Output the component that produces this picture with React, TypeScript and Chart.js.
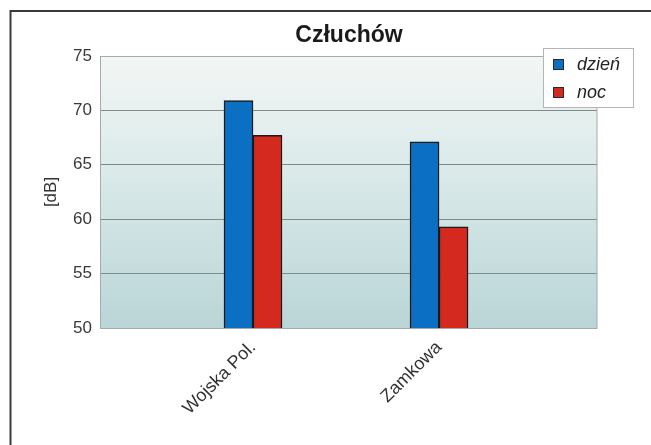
import React, { useEffect, useRef } from "react";
import { Chart, registerables } from "chart.js";

Chart.register(...registerables);

const chartTitle = "Człuchów";
const categories = ["Wojska Pol.", "Zamkowa"];
const seriesNames = ["dzień", "noc"];
const dayValues = [70.9, 67.1];
const nightValues = [67.7, 59.3];
const yTicks = [50, 55, 60, 65, 70, 75];
const yAxisTitle = "[dB]";

const FONT = "'Liberation Sans', Arial, sans-serif";
const BLUE = "#0b6fc3";
const RED = "#d4291f";

const framePlugin = {
  id: "frame",
  beforeDraw(chart: any) {
    const { ctx, chartArea: a } = chart;
    ctx.save();
    const g = ctx.createLinearGradient(0, a.top, 0, a.bottom);
    g.addColorStop(0, "#f3f6f5");
    g.addColorStop(0.5, "#d6e7e7");
    g.addColorStop(1, "#bad5d7");
    ctx.fillStyle = g;
    ctx.fillRect(a.left, a.top, a.right - a.left, a.bottom - a.top);
    ctx.restore();
  },
  afterDraw(chart: any) {
    const { ctx, chartArea: a } = chart;
    ctx.save();
    // plot border
    ctx.strokeStyle = "#a3abab";
    ctx.lineWidth = 1;
    ctx.strokeRect(a.left - 0.5, a.top + 0.5, a.right - a.left + 0.5, a.bottom - a.top);
    // outer frame
    ctx.strokeStyle = "#3a3a3a";
    ctx.lineWidth = 2;
    ctx.beginPath();
    ctx.moveTo(10.5, chart.height + 5);
    ctx.lineTo(10.5, 11);
    ctx.lineTo(chart.width + 5, 11);
    ctx.stroke();
    // title
    ctx.fillStyle = "#1a1a1a";
    ctx.font = `bold 23px ${FONT}`;
    ctx.textAlign = "center";
    ctx.textBaseline = "alphabetic";
    ctx.fillText(chartTitle, (a.left + a.right) / 2, 42);
    // legend
    const lx = 543.5, ly = 48.5, lw = 90, lh = 59;
    ctx.fillStyle = "#ffffff";
    ctx.fillRect(lx, ly, lw, lh);
    ctx.strokeStyle = "#b4b4b4";
    ctx.lineWidth = 1;
    ctx.strokeRect(lx, ly, lw, lh);
    chart.data.datasets.forEach((ds: any, i: number) => {
      const sy = 59 + i * 28;
      ctx.fillStyle = ds.backgroundColor;
      ctx.fillRect(553, sy, 11, 11);
      ctx.strokeStyle = "#2a2a2a";
      ctx.strokeRect(553.5, sy + 0.5, 10, 10);
      ctx.fillStyle = "#222";
      ctx.font = `italic 18px ${FONT}`;
      ctx.textAlign = "left";
      ctx.textBaseline = "alphabetic";
      ctx.fillText(ds.label, 577, sy + 11);
    });
    ctx.restore();
  },
};

export default function App() {
  const ref = useRef<HTMLCanvasElement>(null);
  useEffect(() => {
    const chart = new Chart(ref.current as HTMLCanvasElement, {
      type: "bar",
      data: {
        datasets: [
          {
            label: seriesNames[0],
            data: dayValues.map((v, i) => ({ x: i, y: v })),
            backgroundColor: BLUE,
            borderColor: "#1a1a1a",
            borderWidth: 1.5,
          },
          {
            label: seriesNames[1],
            data: nightValues.map((v, i) => ({ x: i, y: v })),
            backgroundColor: RED,
            borderColor: "#1a1a1a",
            borderWidth: 1.5,
          },
        ],
      },
      options: {
        animation: false,
        responsive: true,
        maintainAspectRatio: false,
        layout: { padding: { left: 36, right: 54, top: 56, bottom: 0 } },
        datasets: { bar: { barThickness: 29 } } as any,
        plugins: { legend: { display: false }, title: { display: false }, tooltip: { enabled: false } },
        scales: {
          x: {
            type: "linear",
            min: -0.817,
            max: 1.849,
            offset: false,
            grid: { display: false, drawTicks: false },
            border: { display: false },
            afterBuildTicks: (s: any) => {
              s.ticks = categories.map((_, i) => ({ value: i }));
            },
            afterFit: (s: any) => {
              s.height = 117;
            },
            ticks: {
              autoSkip: false,
              minRotation: 45,
              maxRotation: 45,
              padding: 9,
              color: "#333",
              font: { family: FONT, size: 18 },
              callback: (v: any) => categories[v as number] ?? "",
            },
          },
          y: {
            min: 50,
            max: 75,
            afterBuildTicks: (s: any) => {
              s.ticks = yTicks.map((v) => ({ value: v }));
            },
            afterFit: (s: any) => {
              s.width = 65;
            },
            grid: {
              drawTicks: false,
              color: (c: any) => (c.tick && c.tick.value === 75 ? "#c9d1d1" : c.tick && c.tick.value === 50 ? "#a3abab" : "#7f8a8a"),
              lineWidth: 1,
            },
            border: { display: false },
            ticks: {
              padding: 9,
              color: "#3a3a3a",
              font: { family: FONT, size: 17 },
            },
            title: {
              display: true,
              text: yAxisTitle,
              color: "#333",
              font: { family: FONT, size: 17 },
              padding: 5,
            },
          },
        },
      },
      plugins: [framePlugin],
    });
    return () => chart.destroy();
  }, []);
  return (
    <div style={{ position: "fixed", left: 0, top: 0, width: 651, height: 445 }}>
      <canvas ref={ref} />
    </div>
  );
}
